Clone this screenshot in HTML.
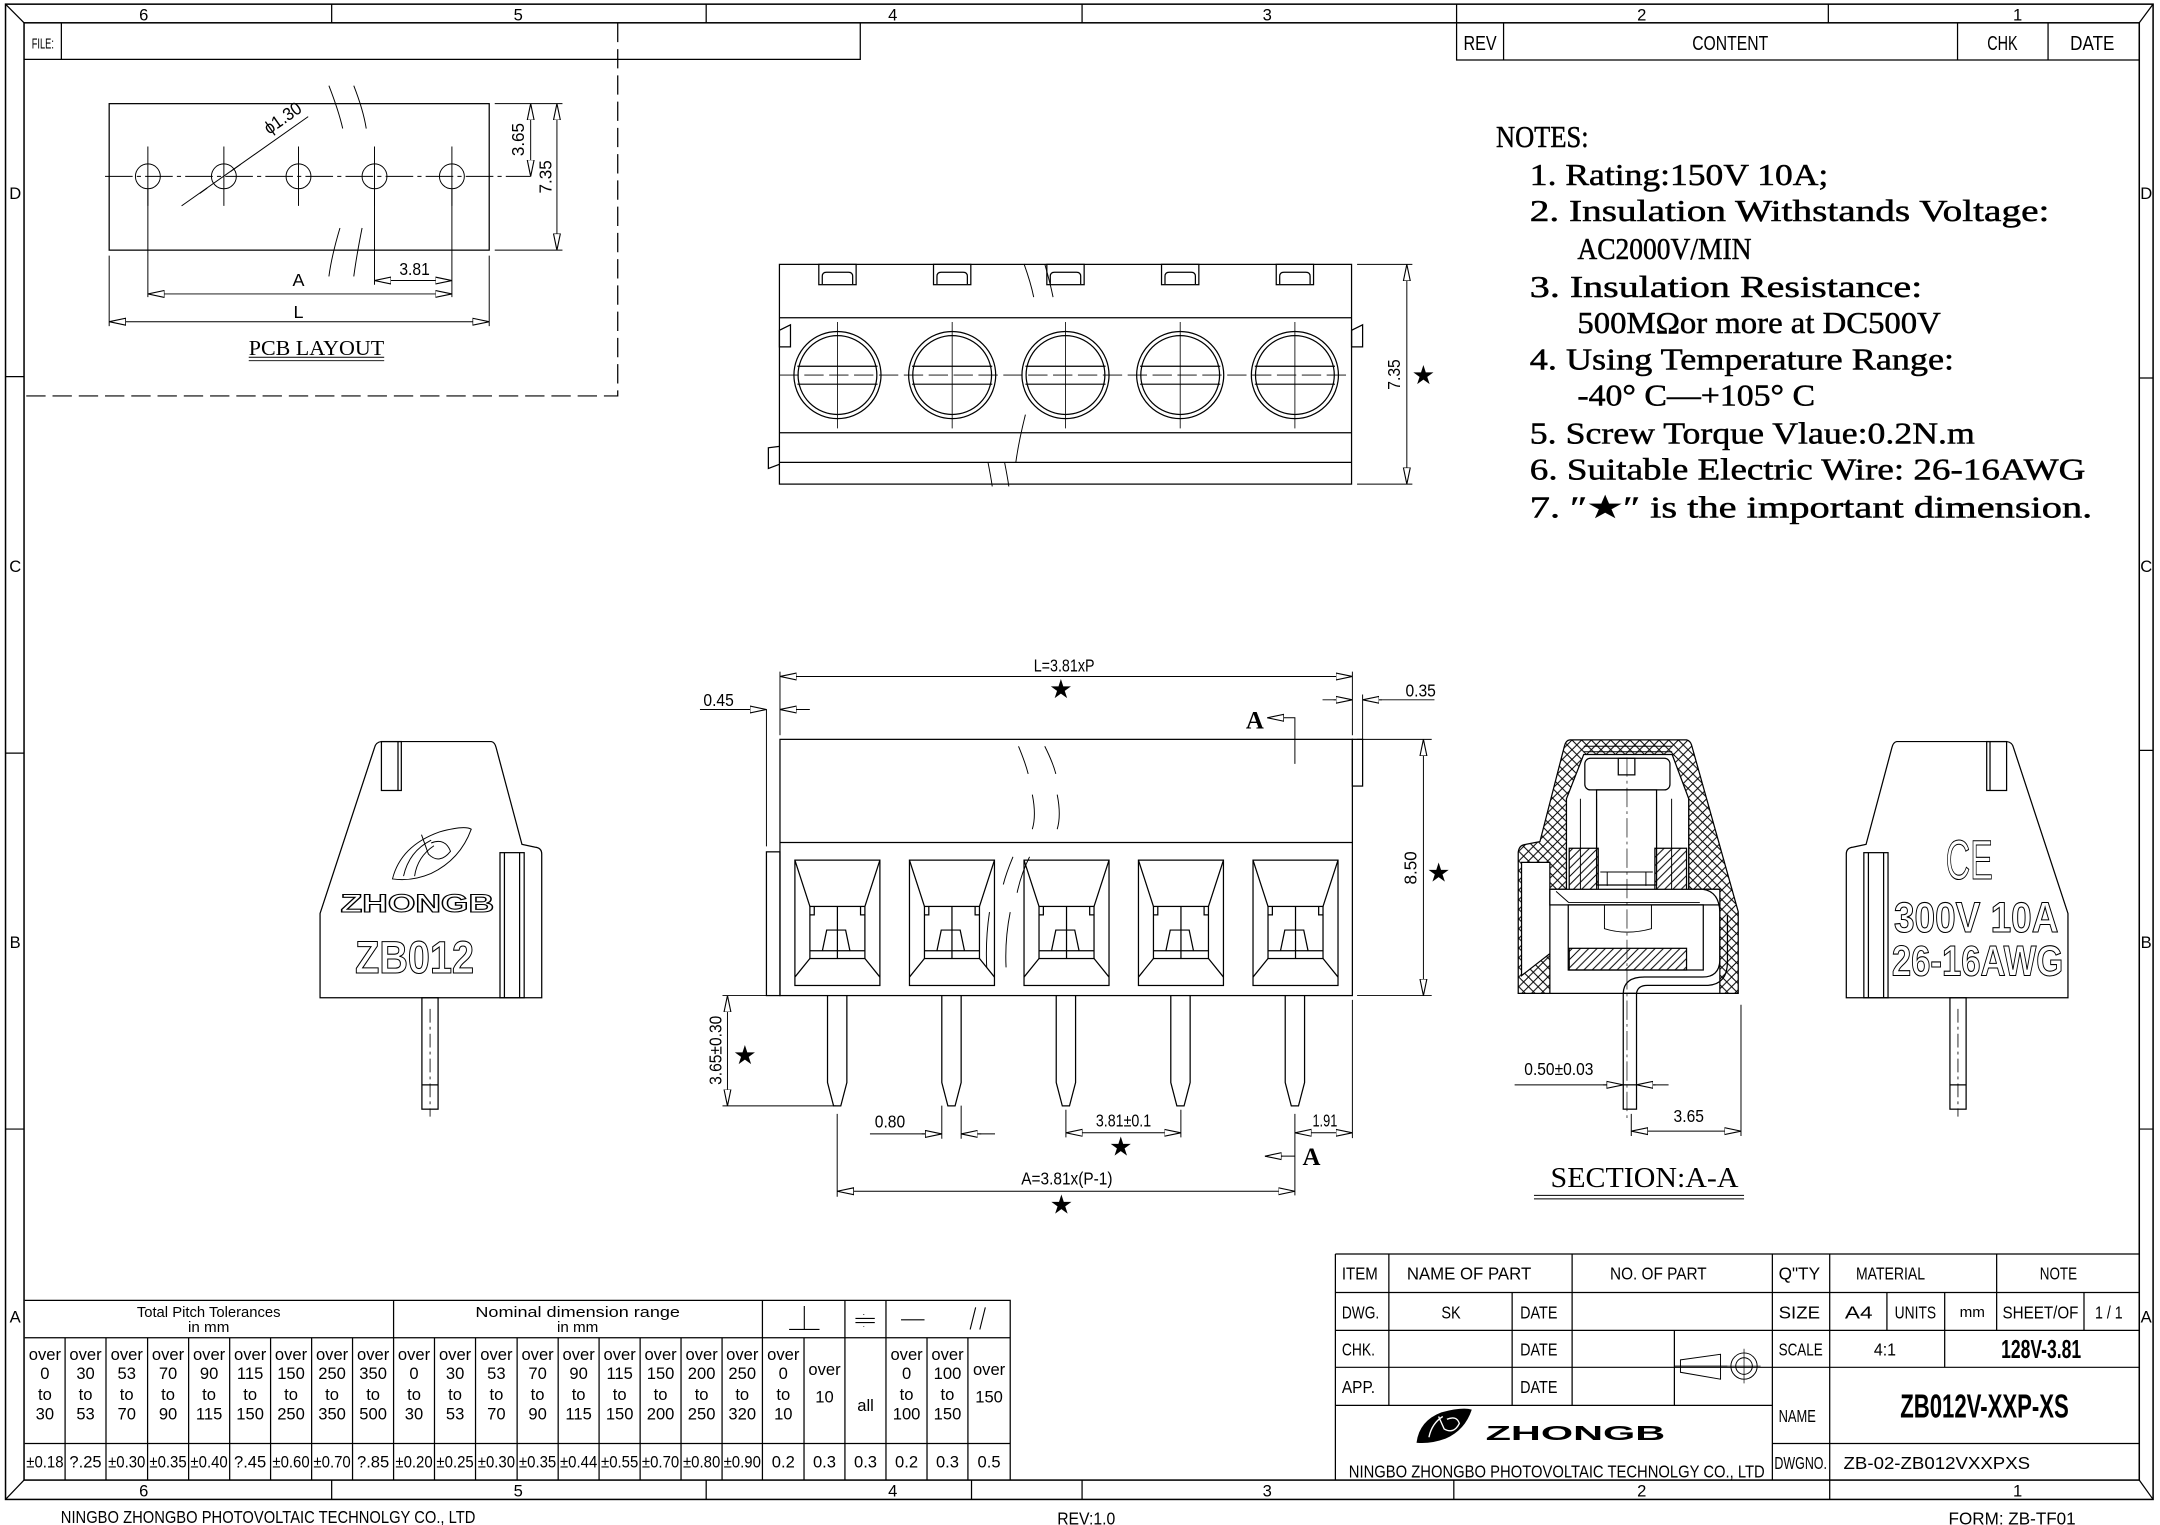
<!DOCTYPE html>
<html><head><meta charset="utf-8"><style>
html,body{margin:0;padding:0;background:#fff}
svg{display:block}
text{font-family:"Liberation Sans",sans-serif;fill:#000}
</style></head><body>
<svg width="2160" height="1525" viewBox="0 0 1563 1103.5" xmlns="http://www.w3.org/2000/svg">
<defs>
<marker id="ar" viewBox="0 0 12 6" refX="12" refY="3" markerWidth="12" markerHeight="6" markerUnits="userSpaceOnUse" orient="auto-start-reverse"><path d="M0,0.5 L12,3 L0,5.5 Z" fill="#fff" stroke="#000" stroke-width="0.8"/></marker>
<pattern id="xh" width="7" height="7" patternUnits="userSpaceOnUse"><path d="M0,0 L7,7 M7,0 L0,7" stroke="#000" stroke-width="0.7"/></pattern>
<pattern id="dh" width="6" height="6" patternUnits="userSpaceOnUse"><path d="M0,6 L6,0 M-1,1 L1,-1 M5,7 L7,5" stroke="#000" stroke-width="0.7"/></pattern>
<g id="sock">
<rect x="0" y="622.4" width="61.5" height="90.7"/>
<rect x="10.85" y="655.9" width="39.8" height="37.7"/>
<path d="M0,622.4 L10.85,655.9 M61.5,622.4 L50.65,655.9 M10.85,693.6 L0,707 M50.65,693.6 L61.5,707 M10.85,688 L50.65,688 M30.75,655.9 L30.75,693.6 M19.9,687.9 L23,673 L36.7,673 L39.8,687.9 M10.85,662 L14,662 L14,656 M50.65,662 L47.5,662 L47.5,656"/>
</g>
<g id="pin">
<path d="M-7,720.4 L-7,783.3 L-2.6,800.2 L2.6,800.2 L7,783.3 L7,720.4"/>
</g>
<g id="screw">
<circle cx="0" cy="271.4" r="31.5"/>
<circle cx="0" cy="271.4" r="28.5"/>
<path d="M-29,265 L29,265 M-29,278 L29,278"/>
<path d="M0,233 L0,310" stroke-width="0.6"/>
<rect x="-13.5" y="191.3" width="27" height="14.7"/>
<path d="M-11,205.5 L-11,200 Q-11,197 -8,197 L8,197 Q11,197 11,200 L11,205.5" />
</g>
<g id="side">
<path d="M1372.5,536.6 L1452,536.6 Q1456,537 1457,541 L1496.4,661 L1496.4,722 L1336,722 L1336,618 Q1336,613.5 1341,613 L1350.3,611 L1369,541 Q1370,537 1372.5,536.6 Z"/>
<rect x="1437.6" y="536.6" width="14.4" height="35.4"/>
<path d="M1440,536.6 L1440,572"/>
<rect x="1348.7" y="617" width="17.5" height="105"/>
<path d="M1352,617 L1352,722 M1363,617 L1363,722"/>
<rect x="1411" y="722" width="11.7" height="80.6"/>
<path d="M1411,785 L1422.7,785"/>
<path d="M1416.8,730 L1416.8,808" stroke-dasharray="10,3,2,3" stroke-width="0.6"/>
</g>
</defs>

<g fill="none" stroke="#000" stroke-width="0.9">
<rect x="4" y="3" width="1554" height="1082" stroke-width="1.1"/>
<rect x="17.4" y="16.5" width="1530.6" height="1054.5" stroke-width="1.1"/>
<path d="M4,3 L17.4,16.5 M1558,3 L1548,16.5 M4,1085 L17.4,1071 M1558,1085 L1548,1071"/>
<path d="M240,3 V16.5 M511,3 V16.5 M783,3 V16.5 M1054,3 V16.5 M1323,3 V16.5"/>
<path d="M240,1071 V1085 M511,1071 V1085 M703,1071 V1085 M783,1071 V1085 M1052,1071 V1085 M1324,1071 V1085"/>
<path d="M4,272.5 H17.4 M4,545 H17.4 M4,817 H17.4 M1548,273.5 H1558 M1548,543 H1558 M1548,817 H1558"/>
<path d="M17.4,43 H622.5 V16.5 M44.4,16.5 V43"/>
<path d="M1054,16.5 V43.4 H1548 M1088,16.5 V43.4 M1416.5,16.5 V43.4 M1482,16.5 V43.4"/>
<path d="M447,16.5 V286.5 H17.4" stroke-dasharray="14,5"/>

<rect x="79" y="75" width="275" height="106"/>
<g stroke-width="0.7">
<circle cx="107" cy="127.6" r="9"/><circle cx="162" cy="127.6" r="9"/><circle cx="216" cy="127.6" r="9"/><circle cx="271" cy="127.6" r="9"/><circle cx="327" cy="127.6" r="9"/>
<path d="M76,127.6 H384" stroke-dasharray="20,3,3,3"/>
<path d="M107,106 V149 M162,106 V149 M216,106 V149 M271,106 V149 M327,106 V149"/>
<path d="M107,137 V215 M271,137 V206 M327,137 V215 M79,185 V236 M354,185 V236"/>
<path d="M358,75 H407 M358,181 H407"/>
<path d="M131.4,149 L223,84.4"/>
</g>
<path d="M384,75 V127.6" marker-start="url(#ar)" marker-end="url(#ar)" stroke-width="0.7"/>
<path d="M403,75 V181" marker-start="url(#ar)" marker-end="url(#ar)" stroke-width="0.7"/>
<path d="M271,203 H327" marker-start="url(#ar)" marker-end="url(#ar)" stroke-width="0.7"/>
<path d="M107,212.7 H327" marker-start="url(#ar)" marker-end="url(#ar)" stroke-width="0.7"/>
<path d="M79,232.8 H354" marker-start="url(#ar)" marker-end="url(#ar)" stroke-width="0.7"/>
<path d="M150,136 L144.5,140 M167,124 L174,119" stroke-width="0.7"/>
<path d="M238,62 Q245,80 248,93 M256,62 Q263,80 265,93 M246,165 Q240,185 238,200 M262,165 Q258,185 256,200" stroke-width="0.7"/>
<path d="M180,258.5 H278 M180,261 H278" stroke-width="0.7"/>

<rect x="564" y="191.3" width="414" height="159"/>
<path d="M564,229.9 H978 M564,313.1 H978 M564,334.6 H978"/>
<path d="M564,271.4 H978" stroke-dasharray="14,4" stroke-width="0.6"/>
<use href="#screw" x="606"/><use href="#screw" x="689"/><use href="#screw" x="771"/><use href="#screw" x="854"/><use href="#screw" x="937"/>
<path d="M572,235 L564,239 L564,251 L572,251 Z M986,235 L978,239 L978,251 L986,251 Z" />
<path d="M564,323 L556,324 L556,339 L564,336"/>
<path d="M982,191.3 H1022 M982,350.3 H1022" stroke-width="0.7"/>
<path d="M1018,191.3 V350.3" marker-start="url(#ar)" marker-end="url(#ar)" stroke-width="0.7"/>
<path d="M741,191 Q746,205 748,215 M756,191 Q760,205 762,215 M742,300 Q737,320 735,335 M727,335 Q729,345 730,352 M715,335 Q717,345 718,352" stroke-width="0.7"/>

<rect x="564.4" y="535" width="414.2" height="185.4"/>
<path d="M564.4,609.6 H978.6"/>
<rect x="978.6" y="535" width="7.4" height="33.8"/>
<rect x="554.6" y="616.4" width="9.8" height="104"/>
<path d="M554.6,513 V612.4" stroke-width="0.7"/>
<use href="#sock" x="575.2"/><use href="#sock" x="658.1"/><use href="#sock" x="741"/><use href="#sock" x="823.8"/><use href="#sock" x="906.7"/>
<use href="#pin" x="605.8"/><use href="#pin" x="688.5"/><use href="#pin" x="771.3"/><use href="#pin" x="854.2"/><use href="#pin" x="937"/>
<path d="M737,540 Q742,552 744,560 M756,540 Q762,552 764,560 M747,575 Q750,590 747,600 M765,575 Q768,590 765,600 M733,620 Q728,632 726,640 M745,620 Q739,632 736,646 M716,660 Q713,680 714,700 M731,660 Q727,680 728,700" stroke-width="0.7"/>
<g stroke-width="0.7">
<path d="M564.4,486 V532"/>
<path d="M978.6,486 V532 M986,502.5 V535"/>
<path d="M522.8,720.4 H564 M522.8,800.2 H605"/>
<path d="M982,535 H1036 M982,720.4 H1036"/>
<path d="M681.5,800 V824 M695.5,800 V824 M771.3,803 V823 M854.5,803 V823"/>
<path d="M978.6,723.5 V823.6 M937,806 V865 M605.8,806 V866"/>
<path d="M506.5,513.4 H554.6 M564.4,513.4 H586"/>
<path d="M957,506.4 H978.6 M986,506.4 H1038"/>
<path d="M629.5,820.5 H681.5 M695.5,820.5 H720"/>
<path d="M917,519.4 H937 V552.7 M915.3,836.6 H937"/>
</g>
<path d="M564.4,489.5 H978.6" marker-start="url(#ar)" marker-end="url(#ar)" stroke-width="0.7"/>
<path d="M540,513.4 H554.6" marker-end="url(#ar)" stroke-width="0.7"/>
<path d="M578,513.4 H564.4" marker-end="url(#ar)" stroke-width="0.7"/>
<path d="M965,506.4 H978.6" marker-end="url(#ar)" stroke-width="0.7"/>
<path d="M1000,506.4 H986" marker-end="url(#ar)" stroke-width="0.7"/>
<path d="M928,519.4 H917" marker-end="url(#ar)" stroke-width="0.7"/>
<path d="M928,836.6 H915.3" marker-end="url(#ar)" stroke-width="0.7"/>
<path d="M1030,535 V720.4" marker-start="url(#ar)" marker-end="url(#ar)" stroke-width="0.7"/>
<path d="M526.4,720.4 V800.2" marker-start="url(#ar)" marker-end="url(#ar)" stroke-width="0.7"/>
<path d="M667,820.5 H681.5" marker-end="url(#ar)" stroke-width="0.7"/>
<path d="M710,820.5 H695.5" marker-end="url(#ar)" stroke-width="0.7"/>
<path d="M771.3,819.7 H854.5" marker-start="url(#ar)" marker-end="url(#ar)" stroke-width="0.7"/>
<path d="M937,819.7 H978.6" marker-start="url(#ar)" marker-end="url(#ar)" stroke-width="0.7"/>
<path d="M605.8,862 H937" marker-start="url(#ar)" marker-end="url(#ar)" stroke-width="0.7"/>

<use href="#side"/>
<use href="#side" transform="translate(1728,0) scale(-1,1)"/>
<path d="M284,636 Q290,612 318,602 Q336,597 341,600 Q333,622 312,632 Q298,638 284,636 Z M292,634 Q296,616 312,608 M300,634 Q302,620 314,612 M305,604 L310,618 Q318,626 326,616 Q322,606 312,610" stroke-width="0.7"/>

<path d="M1136,535.4 L1220.4,535.4 Q1223,536 1224,539 L1257.8,659.7 L1257.8,718.8 L1098.6,718.8 L1098.6,617 Q1099,611.4 1104,611 L1114.3,609 L1132,540 Q1133,535.6 1136,535.4 Z M1146,546 L1210,546 L1222,578 L1222,643.5 L1244.5,643.5 L1244.5,718.8 L1121.5,718.8 L1121.5,643.5 L1133.5,643.5 L1133.5,578 Z M1101,624 L1121.5,624 L1121.5,690 L1101,706 Z" fill="url(#xh)" fill-rule="evenodd"/>
<path d="M1146,540 H1210 M1146,544 H1210" stroke-width="0.7"/>
<rect x="1146.8" y="548.7" width="61.6" height="22.9" rx="4" fill="#fff"/>
<rect x="1171" y="548.7" width="12" height="12"/>
<rect x="1155.3" y="571.6" width="43.4" height="68.8"/>
<path d="M1133.5,578 V643.5 M1143.6,578 V643.5 M1155.3,578 V643.5 M1198.7,578 V643.5 M1209.6,578 V643.5 M1222,578 V643.5" stroke-width="0.7"/>
<rect x="1135.5" y="613.8" width="21" height="30" fill="url(#dh)"/>
<rect x="1197.5" y="613.8" width="22.9" height="30" fill="url(#dh)"/>
<path d="M1158,631 H1196 M1163,631 V641 M1191,631 V641" stroke-width="0.7"/>
<rect x="1121.5" y="643.5" width="123" height="11.3" fill="#fff"/>
<path d="M1126,645 L1135,653 H1230" stroke-width="0.7"/>
<rect x="1134.8" y="654.8" width="97.7" height="47.1"/>
<rect x="1135.5" y="686.2" width="84.9" height="15.7" fill="url(#dh)"/>
<path d="M1161,654.8 V672 Q1177,677 1195,672 V654.8" stroke-width="0.7"/>
<path d="M1174.6,718.8 Q1175,707 1190,707 H1232 Q1244,707 1244.5,695 V660 Q1244,645 1232,643.5" stroke-width="0.9"/>
<path d="M1184.2,718.8 Q1185,713 1192,713 H1236 Q1250,712 1250,696 V662" stroke-width="0.9"/>
<path d="M1177.3,548 V812" stroke-dasharray="14,3,2,3" stroke-width="0.5"/>
<rect x="1174.6" y="718.8" width="9.6" height="83.8"/>
<path d="M1174.6,785 H1184.2"/>
<g stroke-width="0.7">
<path d="M1096,785 H1174.6 M1184.2,785 H1207.4"/>
<path d="M1259.8,727 V822 M1180.4,806 V822"/>
<path d="M1110,865 H1262 M1110,867.5 H1262"/>
</g>
<path d="M1160,785 H1174.6" marker-end="url(#ar)" stroke-width="0.7"/>
<path d="M1198,785 H1184.2" marker-end="url(#ar)" stroke-width="0.7"/>
<path d="M1180.4,818.5 H1259.8" marker-start="url(#ar)" marker-end="url(#ar)" stroke-width="0.7"/>

<path d="M17.9,941 H731 V1071 M17.9,968 H731 M17.9,1044.5 H731"/>
<path d="M284.8,941 V1071 M551.7,941 V1071 M611.4,941 V1071 M641.1,941 V1071"/>
<path d="M47.1,968 V1071 M76.7,968 V1071 M106.8,968 V1071 M136.5,968 V1071 M166.2,968 V1071 M195.8,968 V1071 M225.5,968 V1071 M255.1,968 V1071 M314.4,968 V1071 M344.1,968 V1071 M374.2,968 V1071 M403.9,968 V1071 M433.5,968 V1071 M463.2,968 V1071 M492.8,968 V1071 M522.5,968 V1071 M581.8,968 V1071 M670.8,968 V1071 M700.4,968 V1071"/>
<path d="M571,962 H593 M582,945 V962 M619,954 H633 M619,957 H633 M625,951 V951.5 M625,959.5 V960 M652,955 H669 M702,962 L706,946 M709,962 L713,946" stroke-width="0.8"/>

<path d="M966.3,907.4 H1548 M966.3,935.3 H1548 M966.3,962.7 H1548 M966.3,989.4 H1548 M966.3,1016.9 H1282.5 M1282.5,1044.5 H1548 M966.3,907.4 V1071"/>
<path d="M1005,907.4 V1016.9 M1137.6,907.4 V1016.9 M1094.2,935.3 V1016.9 M1211.6,962.7 V1016.9 M1282.5,907.4 V1071 M1324,907.4 V1071 M1444.8,907.4 V962.7 M1365.4,935.3 V962.7 M1407.2,935.3 V989.4 M1508,935.3 V962.7"/>
<path d="M1216,984 L1245,980 V998 L1216,993 Z M1212,988.5 H1250" stroke-width="0.7"/>
<circle cx="1262" cy="988.5" r="9.5" stroke-width="0.7"/><circle cx="1262" cy="988.5" r="6" stroke-width="0.7"/>
<path d="M1262,976 V1001 M1250,988.5 H1274" stroke-width="0.5"/>
</g>
<path d="M1025,1044 Q1027,1028 1043,1022 Q1058,1018 1065,1020 Q1060,1035 1046,1041 Q1035,1045 1025,1044 Z" fill="#000"/>
<path d="M1034,1040 Q1036,1030 1044,1025 M1041,1025 L1045,1034 Q1052,1038 1056,1030 Q1054,1024 1047,1027" fill="none" stroke="#fff" stroke-width="1"/>

<g font-size="19" text-anchor="middle">
<text x="767.7" y="505" style="font-family:'DejaVu Sans'">★</text>
<text x="1030" y="278" style="font-family:'DejaVu Sans'">★</text>
<text x="1041" y="638" style="font-family:'DejaVu Sans'">★</text>
<text x="539" y="770" style="font-family:'DejaVu Sans'">★</text>
<text x="811" y="836" style="font-family:'DejaVu Sans'">★</text>
<text x="768" y="878" style="font-family:'DejaVu Sans'">★</text>
</g>

<g font-size="13">
<text x="216" y="207" text-anchor="middle">A</text>
<text x="216" y="230" text-anchor="middle">L</text>
<text x="300" y="199" text-anchor="middle" textLength="22" lengthAdjust="spacingAndGlyphs">3.81</text>
<text transform="translate(379,101) rotate(-90)" text-anchor="middle" textLength="24" lengthAdjust="spacingAndGlyphs">3.65</text>
<text transform="translate(399,128) rotate(-90)" text-anchor="middle" textLength="24" lengthAdjust="spacingAndGlyphs">7.35</text>
<text transform="translate(207,89) rotate(-35)" text-anchor="middle" textLength="30" lengthAdjust="spacingAndGlyphs">ϕ1.30</text>
<text transform="translate(1013,271) rotate(-90)" text-anchor="middle" textLength="22" lengthAdjust="spacingAndGlyphs">7.35</text>
<text x="770" y="486" text-anchor="middle" textLength="44" lengthAdjust="spacingAndGlyphs">L=3.81xP</text>
<text x="520" y="511" text-anchor="middle" textLength="22" lengthAdjust="spacingAndGlyphs">0.45</text>
<text x="1028" y="504" text-anchor="middle" textLength="22" lengthAdjust="spacingAndGlyphs">0.35</text>
<text transform="translate(1025,628) rotate(-90)" text-anchor="middle" textLength="24" lengthAdjust="spacingAndGlyphs">8.50</text>
<text transform="translate(522,760) rotate(-90)" text-anchor="middle" textLength="50" lengthAdjust="spacingAndGlyphs">3.65±0.30</text>
<text x="644" y="816" text-anchor="middle" textLength="22" lengthAdjust="spacingAndGlyphs">0.80</text>
<text x="813" y="815" text-anchor="middle" textLength="40" lengthAdjust="spacingAndGlyphs">3.81±0.1</text>
<text x="958.7" y="815" text-anchor="middle" textLength="18" lengthAdjust="spacingAndGlyphs">1.91</text>
<text x="772" y="857" text-anchor="middle" textLength="66" lengthAdjust="spacingAndGlyphs">A=3.81x(P-1)</text>
<text x="1128" y="778" text-anchor="middle" textLength="50" lengthAdjust="spacingAndGlyphs">0.50±0.03</text>
<text x="1222" y="812" text-anchor="middle" textLength="22" lengthAdjust="spacingAndGlyphs">3.65</text>
</g>
<g font-weight="bold" font-size="18">
<text x="908" y="527" text-anchor="middle" style="font-family:'Liberation Serif',serif">A</text>
<text x="949" y="843" text-anchor="middle" style="font-family:'Liberation Serif',serif">A</text>
</g>
<text x="229" y="257" text-anchor="middle" font-size="15" style="font-family:'Liberation Serif',serif" textLength="98" lengthAdjust="spacingAndGlyphs">PCB LAYOUT</text>
<text x="1190" y="859" text-anchor="middle" font-size="21" style="font-family:'Liberation Serif',serif" textLength="136" lengthAdjust="spacingAndGlyphs">SECTION:A-A</text>

<g font-weight="bold" stroke="#000" stroke-width="0.8">
<text x="302" y="660" text-anchor="middle" font-size="18" textLength="111" lengthAdjust="spacingAndGlyphs" style="fill:#fff">ZHONGB</text>
<text x="300" y="704" text-anchor="middle" font-size="33" textLength="86" lengthAdjust="spacingAndGlyphs" style="fill:#fff">ZB012</text>
<text x="1430" y="674.5" text-anchor="middle" font-size="31" textLength="119" lengthAdjust="spacingAndGlyphs" style="fill:#fff">300V 10A</text>
<text x="1431" y="706" text-anchor="middle" font-size="31" textLength="124" lengthAdjust="spacingAndGlyphs" style="fill:#fff">26-16AWG</text>
</g>
<text x="1425" y="636" text-anchor="middle" font-size="40" stroke="#000" stroke-width="0.8" textLength="34" lengthAdjust="spacingAndGlyphs" style="fill:#fff">CE</text>

<g font-size="12" text-anchor="middle">
<text x="104" y="15">6</text><text x="375" y="15">5</text><text x="646" y="15">4</text><text x="917" y="15">3</text><text x="1188" y="15">2</text><text x="1460" y="15">1</text>
<text x="104" y="1083">6</text><text x="375" y="1083">5</text><text x="646" y="1083">4</text><text x="917" y="1083">3</text><text x="1188" y="1083">2</text><text x="1460" y="1083">1</text>
<text x="11" y="144">D</text><text x="11" y="414">C</text><text x="11" y="686">B</text><text x="11" y="957">A</text>
<text x="1553" y="144">D</text><text x="1553" y="414">C</text><text x="1553" y="686">B</text><text x="1553" y="957">A</text>
</g>
<text x="31" y="35" font-size="11" text-anchor="middle" textLength="16" lengthAdjust="spacingAndGlyphs">FILE:</text>
<g font-size="15" text-anchor="middle">
<text x="1071" y="36" textLength="24" lengthAdjust="spacingAndGlyphs">REV</text>
<text x="1252" y="36" textLength="55" lengthAdjust="spacingAndGlyphs">CONTENT</text>
<text x="1449" y="36" textLength="22" lengthAdjust="spacingAndGlyphs">CHK</text>
<text x="1514" y="36" textLength="32" lengthAdjust="spacingAndGlyphs">DATE</text>
</g>

<g font-size="22" stroke="#000" stroke-width="0.35">
<text x="1082.5" y="106.5" textLength="67" lengthAdjust="spacingAndGlyphs" style="font-family:'Liberation Serif',serif">NOTES:</text>
<text x="1107" y="134" textLength="216" lengthAdjust="spacingAndGlyphs" style="font-family:'Liberation Serif',serif">1. Rating:150V 10A;</text>
<text x="1107" y="160" textLength="376" lengthAdjust="spacingAndGlyphs" style="font-family:'Liberation Serif',serif">2. Insulation Withstands Voltage:</text>
<text x="1141.4" y="187.5" textLength="126" lengthAdjust="spacingAndGlyphs" style="font-family:'Liberation Serif',serif">AC2000V/MIN</text>
<text x="1107" y="215" textLength="284" lengthAdjust="spacingAndGlyphs" style="font-family:'Liberation Serif',serif">3. Insulation Resistance:</text>
<text x="1141.4" y="241" textLength="263" lengthAdjust="spacingAndGlyphs" style="font-family:'Liberation Serif',serif">500MΩor more at DC500V</text>
<text x="1107" y="267.5" textLength="307" lengthAdjust="spacingAndGlyphs" style="font-family:'Liberation Serif',serif">4. Using Temperature Range:</text>
<text x="1141.4" y="293.5" textLength="172" lengthAdjust="spacingAndGlyphs" style="font-family:'Liberation Serif',serif">-40° C—+105° C</text>
<text x="1107" y="321" textLength="322" lengthAdjust="spacingAndGlyphs" style="font-family:'Liberation Serif',serif">5. Screw Torque Vlaue:0.2N.m</text>
<text x="1107" y="347" textLength="402" lengthAdjust="spacingAndGlyphs" style="font-family:'Liberation Serif',serif">6. Suitable Electric Wire: 26-16AWG</text>
<text x="1107" y="374.5" textLength="407" lengthAdjust="spacingAndGlyphs" style="font-family:'Liberation Serif',serif">7. ″★″ is the important dimension.</text>
</g>

<g font-size="11" text-anchor="middle">
<text x="151" y="953" textLength="104" lengthAdjust="spacingAndGlyphs">Total Pitch Tolerances</text>
<text x="151" y="964">in mm</text>
<text x="418" y="953" textLength="148" lengthAdjust="spacingAndGlyphs">Nominal dimension range</text>
<text x="418" y="964">in mm</text>
</g>
<g font-size="12" text-anchor="middle">
<text x="32.5" y="984">over</text><text x="32.5" y="998">0</text><text x="32.5" y="1013">to</text><text x="32.5" y="1027">30</text>
<text x="61.9" y="984">over</text><text x="61.9" y="998">30</text><text x="61.9" y="1013">to</text><text x="61.9" y="1027">53</text>
<text x="91.7" y="984">over</text><text x="91.7" y="998">53</text><text x="91.7" y="1013">to</text><text x="91.7" y="1027">70</text>
<text x="121.6" y="984">over</text><text x="121.6" y="998">70</text><text x="121.6" y="1013">to</text><text x="121.6" y="1027">90</text>
<text x="151.3" y="984">over</text><text x="151.3" y="998">90</text><text x="151.3" y="1013">to</text><text x="151.3" y="1027">115</text>
<text x="181" y="984">over</text><text x="181" y="998">115</text><text x="181" y="1013">to</text><text x="181" y="1027">150</text>
<text x="210.6" y="984">over</text><text x="210.6" y="998">150</text><text x="210.6" y="1013">to</text><text x="210.6" y="1027">250</text>
<text x="240.3" y="984">over</text><text x="240.3" y="998">250</text><text x="240.3" y="1013">to</text><text x="240.3" y="1027">350</text>
<text x="270" y="984">over</text><text x="270" y="998">350</text><text x="270" y="1013">to</text><text x="270" y="1027">500</text>
<text x="299.6" y="984">over</text><text x="299.6" y="998">0</text><text x="299.6" y="1013">to</text><text x="299.6" y="1027">30</text>
<text x="329.3" y="984">over</text><text x="329.3" y="998">30</text><text x="329.3" y="1013">to</text><text x="329.3" y="1027">53</text>
<text x="359.2" y="984">over</text><text x="359.2" y="998">53</text><text x="359.2" y="1013">to</text><text x="359.2" y="1027">70</text>
<text x="389" y="984">over</text><text x="389" y="998">70</text><text x="389" y="1013">to</text><text x="389" y="1027">90</text>
<text x="418.7" y="984">over</text><text x="418.7" y="998">90</text><text x="418.7" y="1013">to</text><text x="418.7" y="1027">115</text>
<text x="448.4" y="984">over</text><text x="448.4" y="998">115</text><text x="448.4" y="1013">to</text><text x="448.4" y="1027">150</text>
<text x="478" y="984">over</text><text x="478" y="998">150</text><text x="478" y="1013">to</text><text x="478" y="1027">200</text>
<text x="507.7" y="984">over</text><text x="507.7" y="998">200</text><text x="507.7" y="1013">to</text><text x="507.7" y="1027">250</text>
<text x="537.1" y="984">over</text><text x="537.1" y="998">250</text><text x="537.1" y="1013">to</text><text x="537.1" y="1027">320</text>
<text x="566.8" y="984">over</text><text x="566.8" y="998">0</text><text x="566.8" y="1013">to</text><text x="566.8" y="1027">10</text>
<text x="596.6" y="995">over</text><text x="596.6" y="1015">10</text>
<text x="626.3" y="1021">all</text>
<text x="656" y="984">over</text><text x="656" y="998">0</text><text x="656" y="1013">to</text><text x="656" y="1027">100</text>
<text x="685.6" y="984">over</text><text x="685.6" y="998">100</text><text x="685.6" y="1013">to</text><text x="685.6" y="1027">150</text>
<text x="715.7" y="995">over</text><text x="715.7" y="1015">150</text>
</g>
<g font-size="12" text-anchor="middle">
<text x="32.5" y="1062" textLength="27" lengthAdjust="spacingAndGlyphs">±0.18</text>
<text x="61.9" y="1062">?.25</text>
<text x="91.7" y="1062" textLength="27" lengthAdjust="spacingAndGlyphs">±0.30</text>
<text x="121.6" y="1062" textLength="27" lengthAdjust="spacingAndGlyphs">±0.35</text>
<text x="151.3" y="1062" textLength="27" lengthAdjust="spacingAndGlyphs">±0.40</text>
<text x="181" y="1062">?.45</text>
<text x="210.6" y="1062" textLength="27" lengthAdjust="spacingAndGlyphs">±0.60</text>
<text x="240.3" y="1062" textLength="27" lengthAdjust="spacingAndGlyphs">±0.70</text>
<text x="270" y="1062">?.85</text>
<text x="299.6" y="1062" textLength="27" lengthAdjust="spacingAndGlyphs">±0.20</text>
<text x="329.3" y="1062" textLength="27" lengthAdjust="spacingAndGlyphs">±0.25</text>
<text x="359.2" y="1062" textLength="27" lengthAdjust="spacingAndGlyphs">±0.30</text>
<text x="389" y="1062" textLength="27" lengthAdjust="spacingAndGlyphs">±0.35</text>
<text x="418.7" y="1062" textLength="27" lengthAdjust="spacingAndGlyphs">±0.44</text>
<text x="448.4" y="1062" textLength="27" lengthAdjust="spacingAndGlyphs">±0.55</text>
<text x="478" y="1062" textLength="27" lengthAdjust="spacingAndGlyphs">±0.70</text>
<text x="507.7" y="1062" textLength="27" lengthAdjust="spacingAndGlyphs">±0.80</text>
<text x="537.1" y="1062" textLength="27" lengthAdjust="spacingAndGlyphs">±0.90</text>
<text x="566.8" y="1062">0.2</text><text x="596.6" y="1062">0.3</text><text x="626.3" y="1062">0.3</text>
<text x="656" y="1062">0.2</text><text x="685.6" y="1062">0.3</text><text x="715.7" y="1062">0.5</text>
</g>

<g font-size="13">
<text x="971" y="926" textLength="26" lengthAdjust="spacingAndGlyphs">ITEM</text>
<text x="1018" y="926" textLength="90" lengthAdjust="spacingAndGlyphs">NAME OF PART</text>
<text x="1165" y="926" textLength="70" lengthAdjust="spacingAndGlyphs">NO. OF PART</text>
<text x="1287" y="926" textLength="30" lengthAdjust="spacingAndGlyphs">Q"TY</text>
<text x="1343" y="926" textLength="50" lengthAdjust="spacingAndGlyphs">MATERIAL</text>
<text x="1476" y="926" textLength="27" lengthAdjust="spacingAndGlyphs">NOTE</text>
<text x="971" y="954" textLength="27" lengthAdjust="spacingAndGlyphs">DWG.</text>
<text x="1043" y="954" textLength="14" lengthAdjust="spacingAndGlyphs">SK</text>
<text x="1100" y="954" textLength="27" lengthAdjust="spacingAndGlyphs">DATE</text>
<text x="1287" y="954" textLength="30" lengthAdjust="spacingAndGlyphs">SIZE</text>
<text x="1335" y="954" textLength="20" lengthAdjust="spacingAndGlyphs">A4</text>
<text x="1371" y="954" textLength="30" lengthAdjust="spacingAndGlyphs">UNITS</text>
<text x="1418" y="953" font-size="11">mm</text>
<text x="1449" y="954" textLength="55" lengthAdjust="spacingAndGlyphs">SHEET/OF</text>
<text x="1516" y="954" textLength="20" lengthAdjust="spacingAndGlyphs">1 / 1</text>
<text x="971" y="981" textLength="24" lengthAdjust="spacingAndGlyphs">CHK.</text>
<text x="1100" y="981" textLength="27" lengthAdjust="spacingAndGlyphs">DATE</text>
<text x="1287" y="981" textLength="32" lengthAdjust="spacingAndGlyphs">SCALE</text>
<text x="1356" y="981" textLength="16" lengthAdjust="spacingAndGlyphs">4:1</text>
<text x="971" y="1008" textLength="24" lengthAdjust="spacingAndGlyphs">APP.</text>
<text x="1100" y="1008" textLength="27" lengthAdjust="spacingAndGlyphs">DATE</text>
<text x="1287" y="1029" textLength="27" lengthAdjust="spacingAndGlyphs">NAME</text>
<text x="1284" y="1063" textLength="38" lengthAdjust="spacingAndGlyphs">DWGNO.</text>
<text x="1334" y="1063" textLength="135" lengthAdjust="spacingAndGlyphs">ZB-02-ZB012VXXPXS</text>
<text x="976" y="1069" textLength="301" lengthAdjust="spacingAndGlyphs">NINGBO ZHONGBO PHOTOVOLTAIC TECHNOLGY CO., LTD</text>
</g>
<text x="1477" y="982.6" font-size="19" font-weight="bold" text-anchor="middle" textLength="58" lengthAdjust="spacingAndGlyphs">128V-3.81</text>
<text x="1436" y="1025.8" font-size="24" font-weight="bold" text-anchor="middle" textLength="122" lengthAdjust="spacingAndGlyphs">ZB012V-XXP-XS</text>
<text x="1075" y="1042" font-size="15" font-weight="bold" textLength="130" lengthAdjust="spacingAndGlyphs">ZHONGB</text>

<g font-size="13">
<text x="44" y="1102" textLength="300" lengthAdjust="spacingAndGlyphs">NINGBO ZHONGBO PHOTOVOLTAIC TECHNOLGY CO., LTD</text>
<text x="765" y="1103" textLength="42" lengthAdjust="spacingAndGlyphs">REV:1.0</text>
<text x="1410" y="1103" textLength="92" lengthAdjust="spacingAndGlyphs">FORM: ZB-TF01</text>
</g>
</svg>
</body></html>
